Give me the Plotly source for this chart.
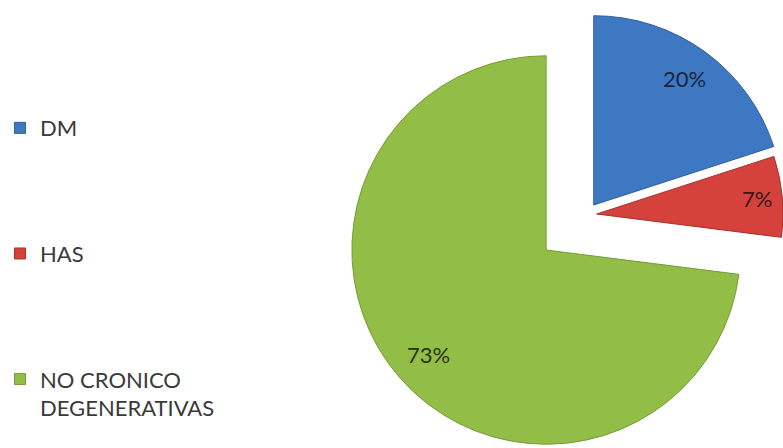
import math
import plotly.graph_objects as go

labels = ["DM", "HAS", "NO CRONICO DEGENERATIVAS"]
legend_text = ["DM", "HAS", "NO CRONICO<br>DEGENERATIVAS"]
values = [20, 7, 73]
colors = ["#3f78c2", "#d5413b", "#92bd46"]
line_colors = ["#2f5f9e", "#a8302b", "#759c35"]
text_colors = ["#16243d", "#3a1512", "#25330f"]

FONT = "Lato"
TRANSPARENT = "rgba(0,0,0,0)"
W, H = 783, 448

# pie placement (pixels) for each slice: DM and HAS are exploded outward
slice_domains = [
    dict(x=[401, 783], y=[14, 396]),   # DM
    dict(x=[407, 783], y=[26, 402]),   # HAS
    dict(x=[348, 740], y=[54, 446]),   # NO CRONICO DEGENERATIVAS
]
label_radius = [0.82, 0.865, 0.81]


def paper_domain(d):
    return dict(x=[d["x"][0] / W, d["x"][1] / W],
                y=[1 - d["y"][1] / H, 1 - d["y"][0] / H])


fig = go.Figure()

# one pie per slice so each slice can sit at its own exploded position
for k in [2, 0, 1]:
    cols = [colors[j] if j == k else TRANSPARENT for j in range(len(values))]
    lcols = [line_colors[j] if j == k else TRANSPARENT for j in range(len(values))]
    fig.add_trace(go.Pie(
        labels=labels, values=values, sort=False, direction="clockwise", rotation=0,
        marker=dict(colors=cols, line=dict(color=lcols, width=1)),
        textinfo="none",
        domain=paper_domain(slice_domains[k]),
        showlegend=False, hoverinfo="skip",
    ))

# percentage labels, placed along each slice's bisector
total = sum(values)
cum = 0
for i, v in enumerate(values):
    mid = (cum + v / 2) / total * 2 * math.pi
    cum += v
    d = slice_domains[i]
    cx = (d["x"][0] + d["x"][1]) / 2
    cy = (d["y"][0] + d["y"][1]) / 2
    r = (d["x"][1] - d["x"][0]) / 2
    px = cx + label_radius[i] * r * math.sin(mid)
    py = cy - label_radius[i] * r * math.cos(mid)
    fig.add_annotation(
        x=px / W, y=1 - py / H, xref="paper", yref="paper",
        xanchor="center", yanchor="middle",
        text=f"{round(v / total * 100)}%", showarrow=False,
        font=dict(family=FONT, size=22, color=text_colors[i]),
    )

for i, name in enumerate(legend_text):
    fig.add_trace(go.Scatter(
        x=[None], y=[None], mode="markers", name=name, legendgroup=f"g{i}",
        marker=dict(symbol="square", size=11, color=colors[i],
                    line=dict(color=line_colors[i], width=1)),
        hoverinfo="skip",
    ))

fig.update_layout(
    width=W, height=H,
    margin=dict(l=0, r=0, t=0, b=0),
    paper_bgcolor="white", plot_bgcolor="white",
    xaxis=dict(visible=False), yaxis=dict(visible=False),
    legend=dict(x=-0.009, y=0.761, xanchor="left", yanchor="top",
                font=dict(family=FONT, size=22, color="#3a3a3a"),
                tracegroupgap=94, valign="top", itemsizing="trace",
                bgcolor="rgba(0,0,0,0)"),
)

fig.write_html("out.html")
